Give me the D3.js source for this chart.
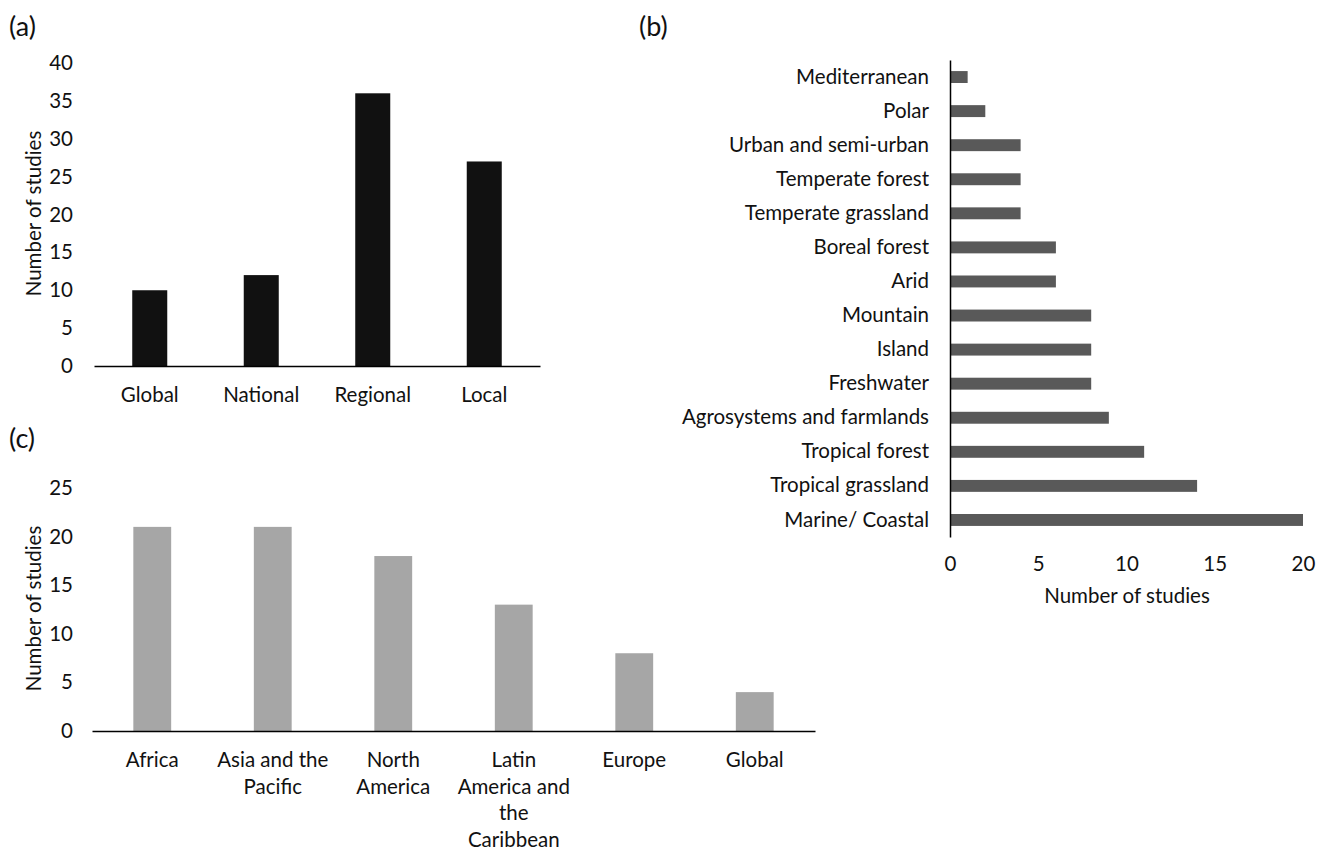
<!DOCTYPE html>
<html>
<head>
<meta charset="utf-8">
<script src="https://cdn.jsdelivr.net/npm/d3@7"></script>
<style>
    body { margin: 0; background: #fff; }
    svg text { font-family: Lato, "Noto Sans", sans-serif; fill: #111; }
    .tick text { font-size: 20.5px; }
    .axis-label { font-size: 20.5px; }
    .panel-label { font-size: 27px; }
    .axis-line path { stroke: #000; stroke-width: 1.5; }
</style>
</head>
<body>
<div id="chart"></div>
<script>
// (a) spatial scale of studies
var scaleCats = ["Global", "National", "Regional", "Local"]
var scaleValues = [10, 12, 36, 27]
var scaleTicks = [0, 5, 10, 15, 20, 25, 30, 35, 40]

// (b) ecosystem types
var biomeCats = ["Mediterranean", "Polar", "Urban and semi-urban", "Temperate forest",
    "Temperate grassland", "Boreal forest", "Arid", "Mountain", "Island", "Freshwater",
    "Agrosystems and farmlands", "Tropical forest", "Tropical grassland", "Marine/ Coastal"]
var biomeValues = [1, 2, 4, 4, 4, 6, 6, 8, 8, 8, 9, 11, 14, 20]
var biomeTicks = [0, 5, 10, 15, 20]

// (c) regions
var regionCats = ["Africa", "Asia and the Pacific", "North America",
    "Latin America and the Caribbean", "Europe", "Global"]
var regionLines = [["Africa"], ["Asia and the", "Pacific"], ["North", "America"],
    ["Latin", "America and", "the", "Caribbean"], ["Europe"], ["Global"]]
var regionValues = [21, 21, 18, 13, 8, 4]
var regionTicks = [0, 5, 10, 15, 20, 25]

var W = 1323, H = 850

var svg = d3.select("#chart")
    .append("svg")
        .attr("width", W)
        .attr("height", H)

function panelLabel(txt, x, y){
    svg.append("text")
        .attr("class", "panel-label")
        .attr("x", x)
        .attr("y", y)
        .attr("dominant-baseline", "central")
        .text(txt)
}

function yTitle(cy){
    svg.append("text")
        .attr("class", "axis-label")
        .attr("transform", "rotate(-90)")
        .attr("x", -cy)
        .attr("y", 33)
        .attr("text-anchor", "middle")
        .attr("dominant-baseline", "central")
        .text("Number of studies")
}

// vertical bar panel, used for (a) and (c)
function columnPanel(opt){
    var data = opt.cats.map((c, i) => ({cat: c, value: opt.values[i]}))

    var x = d3.scaleBand()
        .domain(opt.cats)
        .range([opt.left, opt.right])
        .paddingInner(0.686)
        .paddingOuter(0.343)

    var y = d3.scaleLinear()
        .domain([0, d3.max(opt.ticks)])
        .range([opt.bottom, opt.top])

    var g = svg.append("g")

    g.selectAll("rect")
        .data(data)
        .enter()
        .append("rect")
            .attr("x", d => x(d.cat))
            .attr("y", d => y(d.value))
            .attr("width", x.bandwidth())
            .attr("height", d => y(0) - y(d.value))
            .attr("fill", opt.color)

    var yAxis = g.append("g")
        .attr("transform", "translate(" + opt.left + ",0)")
        .call(d3.axisLeft(y).tickValues(opt.ticks).tickSize(0).tickPadding(opt.left - 73))
    yAxis.select(".domain").remove()

    var xAxis = g.append("g")
        .attr("class", "axis-line")
        .attr("transform", "translate(0," + opt.bottom + ")")
        .call(d3.axisBottom(x).tickSize(0).tickSizeOuter(0).tickFormat(""))

    // category labels, wrapped onto several lines where needed
    var labels = g.append("g")
        .selectAll("text")
        .data(opt.cats)
        .enter()
        .append("text")
            .attr("class", "axis-label")
            .attr("text-anchor", "middle")
            .attr("x", d => x(d) + x.bandwidth() / 2)
            .attr("y", opt.bottom + 29 + 7)

    labels.each(function(d, i){
        var lines = opt.lines ? opt.lines[i] : [d]
        d3.select(this).selectAll("tspan")
            .data(lines)
            .enter()
            .append("tspan")
                .attr("x", x(d) + x.bandwidth() / 2)
                .attr("dy", (l, j) => j == 0 ? 0 : 26.5)
                .text(l => l)
    })

    yTitle((opt.top + opt.bottom) / 2 - 1)
}

function barPanel(){
    var data = biomeCats.map((c, i) => ({cat: c, value: biomeValues[i]}))

    var y = d3.scaleBand()
        .domain(biomeCats)
        .range([60, 537])
        .paddingInner(0.65)
        .paddingOuter(0.325)

    var x = d3.scaleLinear()
        .domain([0, 20])
        .range([950, 1303])

    var g = svg.append("g")

    g.selectAll("rect")
        .data(data)
        .enter()
        .append("rect")
            .attr("x", x(0))
            .attr("y", d => y(d.cat))
            .attr("width", d => x(d.value) - x(0))
            .attr("height", y.bandwidth())
            .attr("fill", "#595959")

    g.append("g")
        .attr("class", "axis-line")
        .attr("transform", "translate(950,0)")
        .call(d3.axisLeft(y).tickSize(0).tickSizeOuter(0).tickPadding(21))

    var xAxis = g.append("g")
        .attr("transform", "translate(0,537)")
        .call(d3.axisBottom(x).tickValues(biomeTicks).tickSize(0).tickPadding(19))
    xAxis.select(".domain").remove()

    g.append("text")
        .attr("class", "axis-label")
        .attr("x", 1127)
        .attr("y", 595)
        .attr("text-anchor", "middle")
        .attr("dominant-baseline", "central")
        .text("Number of studies")
}

panelLabel("(a)", 9, 25)
panelLabel("(b)", 639, 25)
panelLabel("(c)", 9, 437)

columnPanel({
    cats: scaleCats, values: scaleValues, ticks: scaleTicks,
    left: 94, right: 540, top: 63, bottom: 366, color: "#111111"
})

barPanel()

columnPanel({
    cats: regionCats, lines: regionLines, values: regionValues, ticks: regionTicks,
    left: 92, right: 815, top: 488, bottom: 731, color: "#a6a6a6"
})
</script>
</body>
</html>
